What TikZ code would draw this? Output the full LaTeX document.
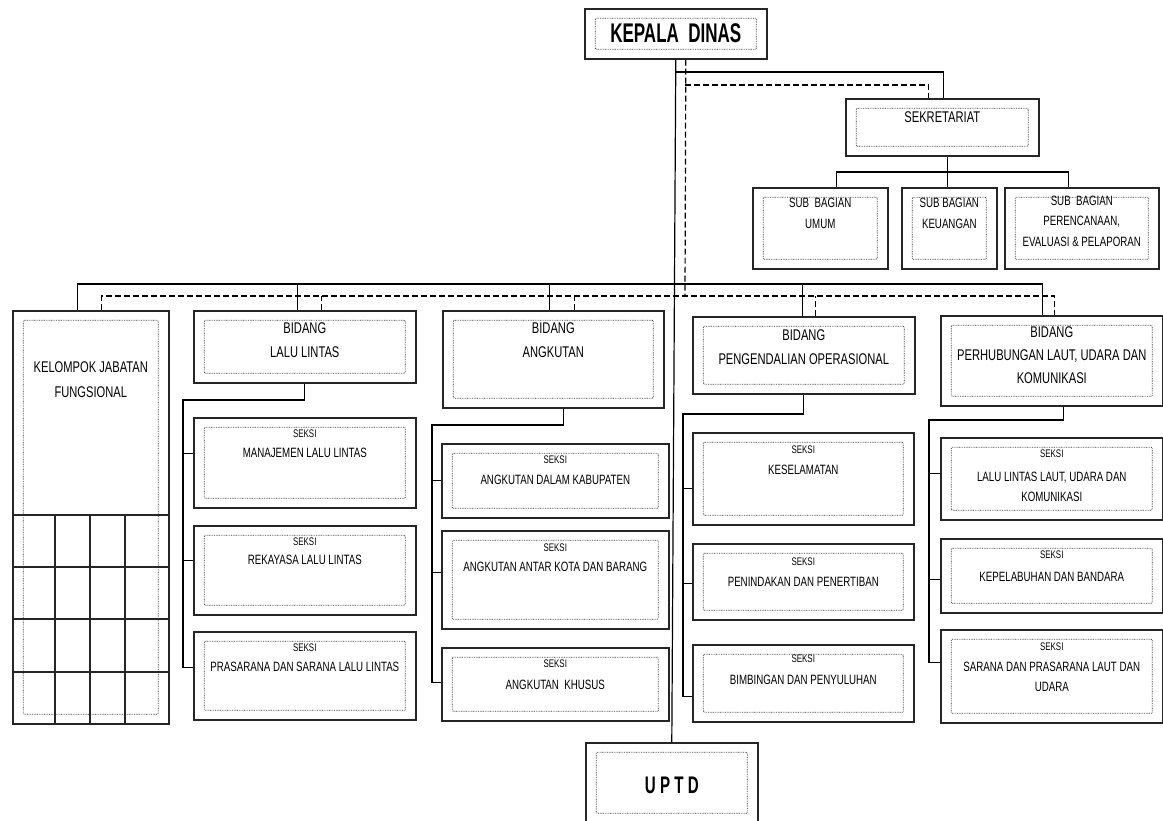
\documentclass[tikz,border=0pt]{standalone}
\usepackage{fontspec}
\setmainfont{Liberation Sans}[FakeStretch=0.72]
\newfontfamily\headfont{Liberation Sans}[FakeStretch=0.63]
\usetikzlibrary{positioning}

\tikzset{
  unit/.style   = {draw=black!85, line width=1.6pt, inner sep=0pt, anchor=north west,
                   path picture={\draw[black!75, line width=0.8pt, dash pattern=on 0.8pt off 0.9pt, rounded corners=1pt]
                     ([shift={(10.5pt,-9.5pt)}]path picture bounding box.north west) rectangle
                     ([shift={(-10.5pt,9.5pt)}]path picture bounding box.south east);}},
  conn/.style   = {black, line width=1.2pt},
  dconn/.style  = {conn, dash pattern=on 6pt off 3pt},
  gridline/.style = {black!85, line width=1.2pt},
  head/.style   = {anchor=base, font=\fontsize{11}{12}\selectfont},
  body/.style   = {anchor=base, align=center, font=\fontsize{13.5}{20}\selectfont},
  title/.style  = {anchor=base, align=center, font=\fontsize{15.5}{23.5}\selectfont},
}

\begin{document}
\begin{tikzpicture}[x=1pt, y=-1pt]
  \useasboundingbox (0,0) rectangle (1163,820);
  \fill[white] (0,0) rectangle (1163,820);
  \clip (0,0) rectangle (1163,820);

  %% TOP: KEPALA DINAS AND SEKRETARIAT
  \node[unit, minimum width=182pt, minimum height=50pt] (kd) at (584,8) {};
  \node[anchor=base, font={\headfont\bfseries\fontsize{27}{27}\selectfont}] (kd-t) at ([yshift=-34.5pt]kd.north) {KEPALA\ \ DINAS};
  \node[unit, minimum width=193pt, minimum height=57pt] (sek) at (845,98) {};
  \node[title] (sek-t) at ([yshift=-24.5pt]sek.north) {SEKRETARIAT};

  \node[unit, minimum width=135pt, minimum height=81pt] (sb1) at (752,187) {};
  \node[unit, minimum width=95pt, minimum height=81pt] (sb2) at (901,187) {};
  \node[unit, minimum width=154pt, minimum height=81pt] (sb3) at (1004,187) {};
  % (base of a node of several lines = its last line)
  \node[body, font=\fontsize{13.5}{21}\selectfont] (sb1-t) at ([yshift=-41pt]sb1.north) {SUB\ \ BAGIAN\\UMUM};
  \node[body, font=\fontsize{13.5}{21}\selectfont] (sb2-t) at ([yshift=-41pt]sb2.north) {SUB BAGIAN\\KEUANGAN};
  \node[body, font=\fontsize{13.5}{20.5}\selectfont] (sb3-t) at ([yshift=-59pt]sb3.north) {SUB\ \ BAGIAN\\PERENCANAAN,\\EVALUASI \& PELAPORAN};

  % joints
  \coordinate (sekj) at (675,72);
  \coordinate (dsekj) at (685,85);
  \coordinate (sbj) at (947,172);
  \coordinate (bar) at (675,284);
  \coordinate (dbar) at (685,296);

  %% BIDANG ROW
  \node[unit, minimum width=156pt, minimum height=413pt] (kel) at (12,310) {};
  \foreach \y in {515,567,619,672}
    \draw[gridline] (kel.west |- 0,\y) -- (kel.east |- 0,\y);
  \foreach \x in {55,90,125}
    \draw[gridline] (\x,515) -- (kel.south -| \x,0);
  \node[title, font=\fontsize{15.5}{25}\selectfont] (kel-t) at ([yshift=-87pt]kel.north) {KELOMPOK JABATAN\\FUNGSIONAL};

  \node[unit, minimum width=222pt, minimum height=72pt] (ll) at (193,310) {};
  \node[unit, minimum width=221pt, minimum height=97pt] (ang) at (442,310) {};
  \node[unit, minimum width=222pt, minimum height=77pt] (peng) at (692,316) {};
  \node[unit, minimum width=222pt, minimum height=90pt] (perh) at (940,315) {};
  \node[title] (ll-t) at ([yshift=-47pt]ll.north) {BIDANG\\LALU LINTAS};
  \node[title] (ang-t) at ([yshift=-47pt]ang.north) {BIDANG\\ANGKUTAN};
  \node[title] (peng-t) at ([yshift=-48pt]peng.north) {BIDANG\\PENGENDALIAN OPERASIONAL};
  \node[title, font=\fontsize{15.5}{23}\selectfont] (perh-t) at ([yshift=-68.5pt]perh.north) {BIDANG\\PERHUBUNGAN LAUT, UDARA DAN\\KOMUNIKASI};

  %% SEKSI
  \node[unit, minimum width=222pt, minimum height=90pt] (ll1) at (193,417) {};
  \node[unit, minimum width=222pt, minimum height=89pt] (ll2) at (193,525) {};
  \node[unit, minimum width=222pt, minimum height=88pt] (ll3) at (193,631) {};
  \node[head] (ll1-h) at ([yshift=-20pt]ll1.north) {SEKSI};
  \node[body] (ll1-t) at ([yshift=-40.5pt]ll1.north) {MANAJEMEN LALU LINTAS};
  \node[head] (ll2-h) at ([yshift=-20.5pt]ll2.north) {SEKSI};
  \node[body] (ll2-t) at ([yshift=-39.5pt]ll2.north) {REKAYASA LALU LINTAS};
  \node[head] (ll3-h) at ([yshift=-20pt]ll3.north) {SEKSI};
  \node[body] (ll3-t) at ([yshift=-40pt]ll3.north) {PRASARANA DAN SARANA LALU LINTAS};

  \node[unit, minimum width=227pt, minimum height=74pt] (an1) at (441,443) {};
  \node[unit, minimum width=227pt, minimum height=98pt] (an2) at (441,530) {};
  \node[unit, minimum width=227pt, minimum height=73pt] (an3) at (441,647) {};
  \node[head] (an1-h) at ([yshift=-20pt]an1.north) {SEKSI};
  \node[body] (an1-t) at ([yshift=-41.5pt]an1.north) {ANGKUTAN DALAM KABUPATEN};
  \node[head] (an2-h) at ([yshift=-21pt]an2.north) {SEKSI};
  \node[body] (an2-t) at ([yshift=-41.5pt]an2.north) {ANGKUTAN ANTAR KOTA DAN BARANG};
  \node[head] (an3-h) at ([yshift=-20pt]an3.north) {SEKSI};
  \node[body] (an3-t) at ([yshift=-42.5pt]an3.north) {ANGKUTAN\ \ KHUSUS};

  \node[unit, minimum width=221pt, minimum height=92pt] (pg1) at (692,432) {};
  \node[unit, minimum width=221pt, minimum height=76pt] (pg2) at (692,543) {};
  \node[unit, minimum width=221pt, minimum height=77pt] (pg3) at (692,644) {};
  \node[head] (pg1-h) at ([yshift=-21pt]pg1.north) {SEKSI};
  \node[body] (pg1-t) at ([yshift=-42.5pt]pg1.north) {KESELAMATAN};
  \node[head] (pg2-h) at ([yshift=-22pt]pg2.north) {SEKSI};
  \node[body] (pg2-t) at ([yshift=-43.5pt]pg2.north) {PENINDAKAN DAN PENERTIBAN};
  \node[head] (pg3-h) at ([yshift=-18pt]pg3.north) {SEKSI};
  \node[body] (pg3-t) at ([yshift=-40.5pt]pg3.north) {BIMBINGAN DAN PENYULUHAN};

  \node[unit, minimum width=222pt, minimum height=82pt] (ph1) at (940,437) {};
  \node[unit, minimum width=222pt, minimum height=74pt] (ph2) at (940,538) {};
  \node[unit, minimum width=222pt, minimum height=93pt] (ph3) at (940,629) {};
  \node[head] (ph1-h) at ([yshift=-20pt]ph1.north) {SEKSI};
  \node[body] (ph1-t) at ([yshift=-64pt]ph1.north) {LALU LINTAS LAUT, UDARA DAN\\KOMUNIKASI};
  \node[head] (ph2-h) at ([yshift=-20pt]ph2.north) {SEKSI};
  \node[body] (ph2-t) at ([yshift=-43pt]ph2.north) {KEPELABUHAN DAN BANDARA};
  \node[head] (ph3-h) at ([yshift=-21pt]ph3.north) {SEKSI};
  \node[body] (ph3-t) at ([yshift=-62pt]ph3.north) {SARANA DAN PRASARANA LAUT DAN\\UDARA};

  %% UPTD AT THE BOTTOM
  \node[unit, minimum width=172pt, minimum height=80pt] (uptd) at (585,742) {};
  \node[anchor=base, font={\headfont\bfseries\fontsize{24}{24}\selectfont}] (uptd-t) at ([yshift=-51.5pt]uptd.north) {U P T D};

  %% LINES FROM KEPALA DINAS
  \draw[conn] (kd.south) -- (uptd.north);
  \draw[conn] (sekj) -| ([xshift=1.5pt]sek.north);
  \draw[dconn] ([xshift=10pt]kd.south) -- (dbar);
  \draw[dconn] (dsekj) -| ([xshift=-13.5pt]sek.north);
  \draw[conn] ([xshift=5.5pt]sek.south) -- ([xshift=5.5pt]sek.south |- sbj);
  \draw[conn] ([xshift=16.5pt]sb1.north) |- (sbj) -| ([xshift=-13pt]sb3.north);
  \draw[conn] ([xshift=-1.5pt]sb2.north) -- ([xshift=-1.5pt]sb2.north |- sbj);

  % solid and dashed bars
  \draw[conn] ([xshift=-13pt]kel.north) |- (bar) -| ([xshift=-9pt]perh.north);
  \foreach \n/\s in {ll/-7, ang/-3.5, peng/-1}
    \draw[conn] ([xshift=\s pt]\n.north) -- ([xshift=\s pt]\n.north |- bar);
  \draw[dconn] ([xshift=11pt]kel.north) |- (dbar) -| ([xshift=3pt]perh.north);
  \foreach \n/\s in {ll/17, ang/21.5, peng/12}
    \draw[dconn] ([xshift=\s pt]\n.north) -- ([xshift=\s pt]\n.north |- dbar);

  %% LINES TO SEKSI
  \coordinate (llx) at (183,400);
  \draw[conn] (ll.south) |- (llx) |- ([yshift=8pt]ll3.west);
  \draw[conn] ([yshift=9pt]ll1.west) -- ([yshift=9pt]ll1.west -| llx);
  \draw[conn] ([yshift=9.5pt]ll2.west) -- ([yshift=9.5pt]ll2.west -| llx);

  \coordinate (anx) at (432,425);
  \draw[conn] ([xshift=10.5pt]ang.south) |- (anx) |- ([yshift=1.5pt]an3.west);
  \draw[conn] (an1.west) -- (an1.west -| anx);
  \draw[conn] ([yshift=7pt]an2.west) -- ([yshift=7pt]an2.west -| anx);

  \coordinate (pgx) at (683,414);
  \draw[conn] (peng.south) |- (pgx) |- ([yshift=-13.5pt]pg3.west);
  \draw[conn] ([yshift=-10pt]pg1.west) -- ([yshift=-10pt]pg1.west -| pgx);
  \draw[conn] ([yshift=-2pt]pg2.west) -- ([yshift=-2pt]pg2.west -| pgx);

  \coordinate (phx) at (929,420);
  \draw[conn] ([xshift=12pt]perh.south) |- (phx) |- ([yshift=13.5pt]ph3.west);
  \draw[conn] ([yshift=5pt]ph1.west) -- ([yshift=5pt]ph1.west -| phx);
  \draw[conn] ([yshift=-4pt]ph2.west) -- ([yshift=-4pt]ph2.west -| phx);
\end{tikzpicture}
\end{document}
